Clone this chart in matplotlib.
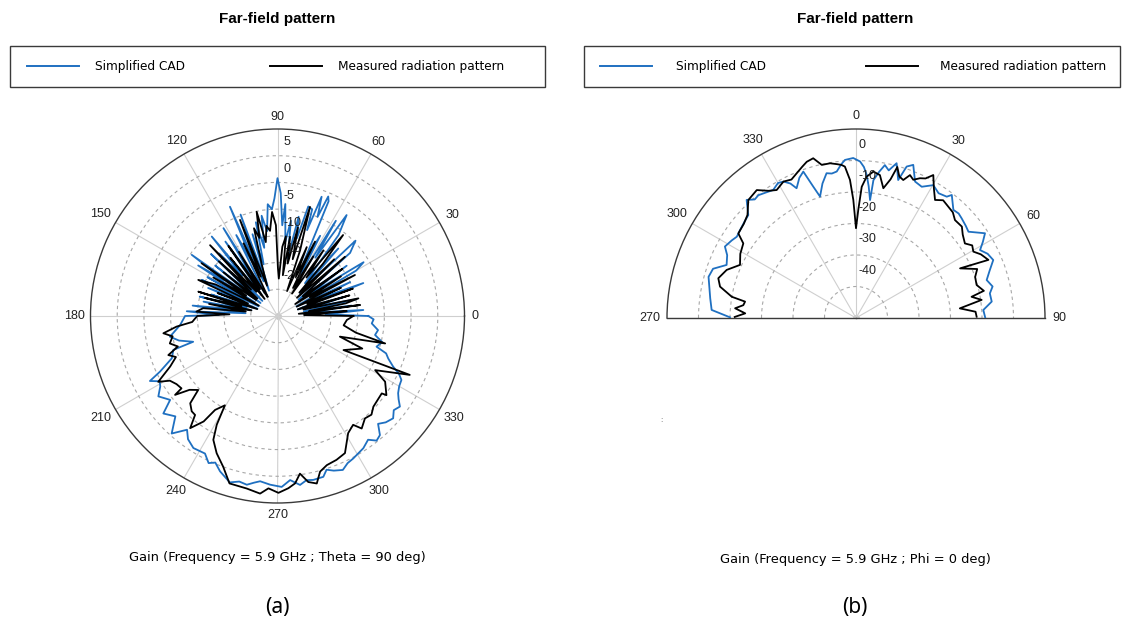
import numpy as np
import matplotlib
matplotlib.use("Agg")
from matplotlib import pyplot as plt
from matplotlib import transforms
from matplotlib.lines import Line2D
from matplotlib.patches import Rectangle

plt.rcParams["font.family"] = ["Liberation Sans", "DejaVu Sans"]

# (a) Theta = 90 deg cut: phi (deg, 0 at right, counter-clockwise) and gain (dB)
cad_a_deg = [0, 2, 4, 6, 8, 10, 12, 14, 16, 18, 21, 23, 25, 27, 30, 32, 34, 36, 38, 41,
             44, 46, 48, 50, 53, 55.6, 57, 58.5, 60, 62, 64, 66, 67, 68, 69.7, 71, 72, 74.3,
             76, 78, 80, 82, 84, 86, 87, 88.5, 90, 91.5, 93, 95, 97, 99, 101, 103, 105, 107,
             108.5, 110, 112, 113.5, 115, 117, 119, 121.6, 123, 125, 127, 129.6, 131, 133,
             135, 137, 139, 141, 142.5, 144.5, 146, 147.5, 149, 151, 153, 154.5, 156, 158,
             160, 162, 164, 166, 167.5, 169, 171, 173, 175, 177, 179,
             180, 185.3, 190.9, 194, 197, 198, 201.8, 205.3, 207, 209, 211, 214, 218, 220.5,
             224.5, 228, 231.5, 234, 237.5, 242.2, 244.9, 247, 249.7, 254, 257, 259.7, 262,
             264, 267.5, 271.4, 274.4, 277.6, 280, 282.3, 285.9, 287.7, 290, 293, 295.5, 298,
             303, 306.2, 308.5, 310.7, 313, 315.5, 318.5, 321, 323.5, 325.5, 327.4, 330,
             332.7, 334.5, 336.4, 339, 341, 342.8, 346, 349, 352, 355.5, 358, 360]
cad_a_db = [-8.0, -16, -8.9, -19, -11, -20, -9.9, -18, -12, -21, -7.8, -17, -10, -21, -8, -6,
            -18, -9, -20, -7, -4.7, -19, -8, -17, -6, -2.1, -12, -4.1, -18, -8, -14, -1.5,
            -0.7, -5, -1.2, -8, -4, -3.7, -10, -6, -14, -7, -11, -4, -8, -2, 0.8, -3, -5, -4,
            -9, -6, -12, -7, -15, -9, -20, -4.8, -18, -2.7, -14, -8, -20, -5.7, -17, -8, -20,
            -5.7, -15, -9, -21, -8, -19, -10, -21, -5.3, -13, -7.4, -20, -10, -21, -9.3, -18,
            -11, -21, -12, -19, -10, -20, -10.9, -17, -9, -19, -8, -14,
            -7.7, -6.7, -4.5, -6, -8.5, -4.5, -3.7, -0.7, 1.8, 0.2, 0.6, 1.9, 0.5, 3.1, 1.8,
            4.6, 2.2, 3.5, 4.3, 4.1, 5.4, 4.8, 6.0, 7.4, 6.8, 7.1, 6.5, 6.1, 6.6, 7.0, 5.8,
            6.9, 6.2, 6.4, 6.3, 5.2, 5.8, 6.3, 5.5, 5.2, 4.5, 3.7, 4.8, 4.4, 2.6, 3.4, 3.9,
            3.0, 3.5, 2.5, 1.8, 1.3, 1.1, 0.2, -1.4, -2.8, -3.5, -5.6, -4.8, -6.4, -6.0,
            -7.3, -7.0, -8.0]

meas_a_deg = [0, 2, 4, 6, 7.6, 9, 10.5, 12.3, 14, 16, 18, 20, 22, 24, 26, 27.9, 30, 32, 34,
              36, 38, 41.3, 43, 45, 47, 49, 51, 53, 55, 57, 59, 61, 63.2, 65, 67, 69, 71, 73.4,
              75, 77, 79, 81, 82.5, 84, 86, 88, 89.5, 91, 93, 95, 97, 99, 101.3, 103, 105, 107,
              109, 111.3, 113, 115, 117, 119, 121, 123, 125, 127, 129, 131, 133.6, 135, 137,
              139, 141, 143, 145.2, 147, 149, 151, 153, 155.5, 157, 159, 161, 162.9, 164.5,
              166, 168, 170, 172, 174, 176.9, 178,
              180, 182, 184, 186, 188.6, 191, 194.3, 197, 199.7, 202, 205.2, 208.9, 211, 214,
              217, 217.6, 220, 223, 225, 228, 230.2, 232.1, 235, 236.4, 239.5, 240.8, 242.6,
              246.1, 250.2, 254, 259.9, 264.4, 267, 270.3, 273.6, 276, 278.1, 280.5, 283.2,
              285.3, 288.3, 292.3, 296.2, 301.1, 304.8, 306.8, 310.5, 313.6, 316.6, 320.8,
              323.4, 324, 328.6, 331, 336, 332.7, 339, 341.7, 345.7, 348, 352, 356.7, 360]
meas_a_db = [-10.8, -20, -12, -21, -9.4, -19, -12, -9.5, -20, -11, -21, -10, -19, -12, -21,
             -8.6, -18, -11, -21, -10, -19, -8.2, -20, -10, -19, -12, -5.5, -16, -10, -20, -12,
             -19, -9.4, -17, -11, -20, -12, -3.7, -14, -8, -15, -10, -17.3, -10, -12, -18, -16,
             -8, -5.5, -9, -8, -11, -5.1, -10, -8, -15, -19, -5.7, -17, -10, -21, -20, -11,
             -19, -9, -21, -11, -19, -6.7, -18, -10, -20, -12, -20, -7.7, -18, -11, -21, -12,
             -8.7, -19, -13, -21, -9.5, -18, -11, -20, -12, -19, -11, -9.8, -16,
             -10, -9.5, -9, -6, -3.4, -5, -4.2, -5.5, -3.3, -4.5, -2.8, 0.5, -1.5, -2.2, -2.5,
             -0.8, -3.5, -4.7, -1.9, -1.0, -0.9, 1.6, -0.9, -3.9, -5.6, -1.7, 1.1, 3.1, 5.0,
             7.6, 7.8, 8.4, 7.3, 8.1, 7.3, 6.5, 4.8, 6.6, 7.2, 5.2, 4.4, 4.1, 3.6, 0.6, -0.2,
             1.3, 0.2, 0.5, -0.3, -0.6, -0.7, 0.2, -1.4, -4.1, 2.1, -11.1, -8, -12.7, -4.2,
             -10, -12.5, -12, -10.8]

# (b) Phi = 0 deg cut: theta (deg, 0 at top, clockwise) and gain (dB)
cad_b_deg = [-89.7, -86.8, -82.3, -74.4, -71, -67.7, -64, -61.4, -58, -55.7, -52.8, -49,
             -46.3, -42.8, -40.5, -38.5, -35.5, -32.9, -30, -28, -26, -24.6, -22, -19.8, -18,
             -16.5, -14, -11.5, -9.5, -7.5, -5.5, -4, -1, 1.5, 3, 4.3, 5.5, 6.8, 7.2, 9, 10.7,
             12.5, 14.7, 17, 18.5, 20.5, 23.4, 26.6, 30.2, 33.5, 36.8, 37.9, 42, 44.5, 46.7,
             50, 52.5, 56.7, 59, 61.3, 64, 67.1, 70.5, 73.8, 77, 79.6, 83.1, 86.4, 89.7]
cad_b_db = [-10.0, -4.1, -3.3, -1.4, -2.0, -5.6, -4.5, -2.6, -3.5, -4.2, -3.8, -3.2, -2.7,
            1.1, -0.5, -0.2, -1.0, -1.6, -0.5, -0.95, -2.5, -4.7, -2.0, -0.6, -6.2, -9.8,
            -6.0, -3.1, -3.5, -3.1, -1.0, 0.3, 0.8, -0.3, -2.0, -4.5, -8.0, -12.3, -5.9, -3.0,
            -0.6, -2.0, 0.8, -4.2, 0.7, 1.9, -2.8, -3.4, -1.2, -2.5, -1.9, -0.5, -3.8, -3.5,
            -3.9, -4.5, -5.0, -1.0, -3.0, -5.1, -3.5, -2.7, -5.0, -6.8, -5.5, -6.8, -6.6,
            -9.5, -9.0]

meas_b_deg = [-89.5, -87.6, -85.4, -83.5, -81.6, -80.3, -77, -73.9, -69.6, -65.4, -61,
              -56.5, -54.3, -50, -46.5, -42.4, -37.8, -34.5, -31.8, -28, -25, -22.3, -19.5,
              -17.5, -15, -12.6, -9.5, -7, -5.4, -4.2, -2.5, -1.3, 0, 1.2, 2.5, 4.3, 6.8, 9.5,
              11.9, 14, 15.3, 17, 18.9, 20.7, 22.5, 24.6, 26.5, 28.4, 31, 33.8, 36.5, 39.7,
              42.5, 45.3, 49.2, 52, 55.6, 58, 60.5, 63, 66.3, 64.5, 68, 71, 74.7, 78, 79.6,
              81.8, 84.7, 87, 89.4]
meas_b_db = [-11.5, -14.8, -11.5, -14.0, -14.4, -10.0, -5.7, -4.5, -6.2, -9.5, -8.0, -7.1,
             -4.0, -3.5, -2.5, 0.7, 1.4, -1.0, -2.2, -0.95, -1.5, -0.35, 1.0, 2.0, 2.5, -0.2,
             -0.2, -0.8, -1.2, -1.8, -6.1, -12.5, -21.5, -15.7, -8.3, -5.0, -3.2, -4.0, -7.9,
             -4.6, -0.3, -3.0, -3.7, -1.5, -2.5, -1.2, -0.5, 1.6, -2.0, -4.9, -3.5, -4.1,
             -4.5, -5.8, -5.6, -7.0, -8.1, -6.5, -7.2, -5.5, -4.1, -13.4, -8.5, -10.0, -10.3,
             -8.5, -12.7, -9.7, -16.9, -12.0, -11.7]

rings_a = [-20, -15, -10, -5, 0, 5]
rlim_a = (-25, 10)
angles_a = list(range(0, 360, 30))

rings_b = [-40, -30, -20, -10, 0]
rlim_b = (-50, 10)
angles_b = [-90, -60, -30, 0, 30, 60, 90]
angle_labels_b = ["270", "300", "330", "0", "30", "60", "90"]

series_labels = ["Simplified CAD", "Measured radiation pattern"]
captions = ["Gain (Frequency = 5.9 GHz ; Theta = 90 deg)",
            "Gain (Frequency = 5.9 GHz ; Phi = 0 deg)"]

BLUE = "#1f70c1"
WIDE = ["DejaVu Sans"]
W, H = 1123, 625


def px_rect(x0, y0, w, h):
    # pixel box (top-left origin) -> figure fraction
    return [x0 / W, 1 - (y0 + h) / H, w / W, h / H]


def style_polar(ax, rings, rlim, angles):
    ax.set_rlim(*rlim)
    ax.set_yticks(rings)
    ax.set_yticklabels([])
    ax.set_xticks(np.radians(angles))
    ax.set_xticklabels([])
    ax.xaxis.grid(True, color="#cfcfcf", lw=0.8, ls="-")
    ax.yaxis.grid(True, color="#a8a8a8", lw=0.8, ls=(0, (3, 3)))
    for sp in ax.spines.values():
        sp.set_color("#3a3a3a")
        sp.set_linewidth(1.0)
    ax.plot([0], [rlim[0]], "o", color="#c8c8c8", ms=4, zorder=1)


def angle_labels(ax, fig, angles, labels, rmax, screen_deg, gap):
    # text centred outside the rim; gap measured from the nearest edge of the text
    for a, lab, s in zip(angles, labels, screen_deg):
        c, sn = np.cos(np.radians(s)), np.sin(np.radians(s))
        d = gap + abs(c) * 2.8 * len(lab) + abs(sn) * 4.5
        off = transforms.offset_copy(ax.transData, fig=fig, units="dots", x=d * c, y=d * sn)
        ax.text(np.radians(a), rmax, lab, transform=off, ha="center", va="center",
                fontsize=9, color="#222222", clip_on=False)


def ring_labels(ax, fig, rings, half, theta, dx):
    off = transforms.offset_copy(ax.transData, fig=fig, x=dx, y=0, units="points")
    for v in rings:
        ax.text(theta, v + half, f"{v:g}", transform=off, ha="left", va="center",
                fontsize=9, color="#222222", zorder=5)


def add_legend(fig, box, entries):
    x0, y0, w, h = box
    fig.patches.append(Rectangle((x0 / W, 1 - (y0 + h) / H), w / W, h / H,
                                 transform=fig.transFigure, fill=False,
                                 edgecolor="#3a3a3a", lw=1.0))
    cy = 1 - (y0 + h / 2) / H
    colors = [BLUE, "black"]
    for (hx, pad), lab, col in zip(entries, series_labels, colors):
        fig.legend([Line2D([], [], color=col, lw=1.4)], [lab], loc="center left",
                   bbox_to_anchor=(hx / W, cy), frameon=False, borderpad=0,
                   borderaxespad=0, handlelength=52 / 12.1, handletextpad=pad / 12.1,
                   prop={"family": WIDE, "size": 8.7})


fig = plt.figure(figsize=(W / 100, H / 100), dpi=100)

# ---- (a) full polar, 0 deg at right, counter-clockwise
R_a = 187
ax1 = fig.add_axes(px_rect(277.5 - R_a, 316 - R_a, 2 * R_a, 2 * R_a), projection="polar")
ax1.plot(np.radians(cad_a_deg), cad_a_db, color=BLUE, lw=1.3, zorder=3)
ax1.plot(np.radians(meas_a_deg), meas_a_db, color="black", lw=1.3, zorder=3)
style_polar(ax1, rings_a, rlim_a, angles_a)
angle_labels(ax1, fig, angles_a, [str(a) for a in angles_a], rlim_a[1], angles_a, 7.5)
ring_labels(ax1, fig, rings_a, 2.5, np.pi / 2, 4)
add_legend(fig, (10, 46, 535, 41), [(27, 16), (270, 16)])

# ---- (b) half polar, 0 deg at top, clockwise
# the half disc is centred vertically in a square box
R_b = 189
ax2 = fig.add_axes(px_rect(856 - R_b, 318 - 1.5 * R_b, 2 * R_b, 2 * R_b), projection="polar")
ax2.set_theta_zero_location("N")
ax2.set_theta_direction(-1)
ax2.set_thetamin(-90)
ax2.set_thetamax(90)
ax2.plot(np.radians(cad_b_deg), cad_b_db, color=BLUE, lw=1.3, zorder=3)
ax2.plot(np.radians(meas_b_deg), meas_b_db, color="black", lw=1.3, zorder=3)
style_polar(ax2, rings_b, rlim_b, angles_b)
angle_labels(ax2, fig, angles_b, angle_labels_b, rlim_b[1], [90 - a for a in angles_b], 8.5)
ring_labels(ax2, fig, rings_b, 5, 0, 2)
add_legend(fig, (584, 46, 536, 41), [(600, 24), (866, 22)])

# titles and captions
for cx, cap, cy, tag in [(277, captions[0], 557, "(a)"), (855, captions[1], 560, "(b)")]:
    fig.text(cx / W, 1 - 19 / H, "Far-field pattern", ha="center", va="center",
             fontsize=11, fontweight="bold")
    fig.text(cx / W, 1 - cy / H, cap, ha="center", va="center", fontsize=9.4, family=WIDE)
    fig.text(cx / W, 1 - 607 / H, tag, ha="center", va="center", fontsize=15,
             family=["Noto Sans", "DejaVu Sans"])
fig.text(661 / W, 1 - 421 / H, ":", ha="center", va="center", fontsize=6, color="#555555")

fig.savefig("out.png", dpi=100, facecolor="white")
